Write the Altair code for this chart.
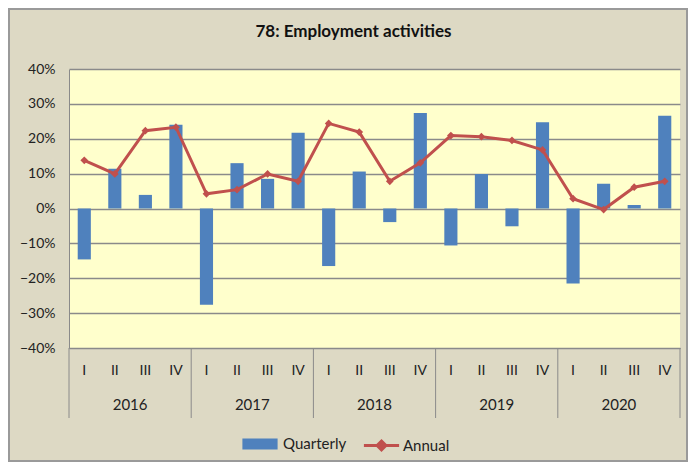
import altair as alt
import pandas as pd

years = [2016, 2017, 2018, 2019, 2020]
quarters = ["I", "II", "III", "IV"]
quarterly_pct = [-14.6, 11.4, 3.9, 24.0,
                 -27.6, 13.0, 8.5, 21.7,
                 -16.5, 10.6, -3.9, 27.4,
                 -10.6, 9.9, -5.1, 24.7,
                 -21.5, 7.1, 1.0, 26.6]
annual_pct = [13.8, 9.9, 22.3, 23.3,
              4.2, 5.4, 9.9, 7.8,
              24.4, 21.9, 7.8, 13.1,
              20.9, 20.6, 19.5, 16.8,
              2.8, -0.3, 6.1, 7.8]
y_ticks = [-0.4, -0.3, -0.2, -0.1, 0.0, 0.1, 0.2, 0.3, 0.4]

keys = [f"{y} {q}" for y in years for q in quarters]
df = pd.DataFrame({
    "key": keys,
    "quarterly": [v / 100 for v in quarterly_pct],
    "annual": [v / 100 for v in annual_pct],
})
year_df = pd.DataFrame({"key": [f"{y} II" for y in years], "year": [str(y) for y in years]})
sep_df = pd.DataFrame({"key": [f"{y} I" for y in years]})
end_df = pd.DataFrame({"key": [keys[-1]]})

W, H = 611, 279
FONT = "Lato"
GRAY = "#8A8A8A"

xscale = alt.Scale(domain=keys, paddingInner=0, paddingOuter=0)
yscale = alt.Scale(domain=[-0.4, 0.4], nice=False, zero=False)

x_axis = alt.Axis(title=None, labelExpr="split(datum.value, ' ')[1]", labelAngle=0,
                  ticks=False, grid=False, domain=True, domainColor=GRAY, domainWidth=1,
                  labelPadding=15, labelFontSize=14, labelFont=FONT, labelColor="#222222")
y_axis = alt.Axis(title=None, values=y_ticks, format=".0%", ticks=False, grid=True,
                  gridColor=GRAY, gridWidth=1.3, domain=True, domainColor=GRAY,
                  labelOverlap=False, labelFlush=False,
                  labelPadding=14, labelFontSize=14, labelFont=FONT, labelColor="#222222")

base = alt.Chart(df)

bars = base.mark_bar(width=alt.RelativeBandSize(0.43)).encode(
    x=alt.X("key:N", sort=keys, scale=xscale, axis=x_axis),
    y=alt.Y("quarterly:Q", scale=yscale, axis=y_axis),
    color=alt.Color(
        "s:N",
        scale=alt.Scale(domain=["Quarterly"], range=["#4F81BD"]),
        legend=alt.Legend(orient="none", legendX=180, legendY=364, title=None, padding=0,
                          symbolType="M-1.6,-0.5H1.6V0.5H-1.6Z", symbolSize=484,
                          symbolStrokeWidth=0, labelOffset=12, labelFontSize=15,
                          labelFont=FONT, labelColor="#222222"),
    ),
).transform_calculate(s="'Quarterly'")

line = base.mark_line(strokeWidth=3).encode(
    x=alt.X("key:N", sort=keys, scale=xscale, axis=x_axis),
    y=alt.Y("annual:Q", scale=yscale, axis=y_axis),
    stroke=alt.Stroke(
        "s:N",
        scale=alt.Scale(domain=["Annual"], range=["#C0504D"]),
        legend=alt.Legend(orient="none", legendX=300, legendY=364, title=None, padding=0,
                          symbolType="M-1.6,0H1.6M0,-0.4L0.4,0L0,0.4L-0.4,0Z",
                          symbolSize=484, symbolStrokeWidth=3, symbolFillColor="#C0504D",
                          labelOffset=9, labelFontSize=15, labelFont=FONT,
                          labelColor="#222222"),
    ),
).transform_calculate(s="'Annual'")

points = base.mark_point(shape="diamond", filled=True, size=60, opacity=1,
                         color="#C0504D").encode(
    x=alt.X("key:N", sort=keys, scale=xscale, axis=x_axis),
    y=alt.Y("annual:Q", scale=yscale, axis=y_axis),
)

seps = alt.Chart(sep_df).mark_rule(color=GRAY, strokeWidth=1).encode(
    x=alt.X("key:N", sort=keys, scale=xscale, bandPosition=0, axis=x_axis),
    y=alt.value(H), y2=alt.value(H + 70),
)
end_sep = alt.Chart(end_df).mark_rule(color=GRAY, strokeWidth=1).encode(
    x=alt.X("key:N", sort=keys, scale=xscale, bandPosition=1, axis=x_axis),
    y=alt.value(H), y2=alt.value(H + 70),
)
year_text = alt.Chart(year_df).mark_text(fontSize=15, font=FONT, color="#222222",
                                         baseline="middle").encode(
    x=alt.X("key:N", sort=keys, scale=xscale, bandPosition=1, axis=x_axis),
    y=alt.value(H + 57),
    text="year:N",
)
border = alt.Chart(end_df).mark_rect(fill=None, stroke="#9A9A9A", strokeWidth=2).encode(
    x=alt.value(-60), x2=alt.value(W + 7), y=alt.value(-60), y2=alt.value(H + 113),
)

chart = alt.layer(bars, line, points, seps, end_sep, year_text, border).properties(
    width=W, height=H,
    autosize=alt.AutoSizeParams(type="none"),
    padding={"left": 61, "top": 61, "right": 8, "bottom": 114},
    background="#DDD9C4",
    title=alt.TitleParams("78: Employment activities", anchor="middle", frame="group",
                          dx=-21, offset=0, dy=41, baseline="middle", fontSize=17,
                          font=FONT, fontWeight="bold", color="#111111"),
).configure_view(fill="#FFFFCC", stroke=None).resolve_scale(color="independent")

chart.save("out.html", embed_options={"renderer": "svg", "actions": False})
